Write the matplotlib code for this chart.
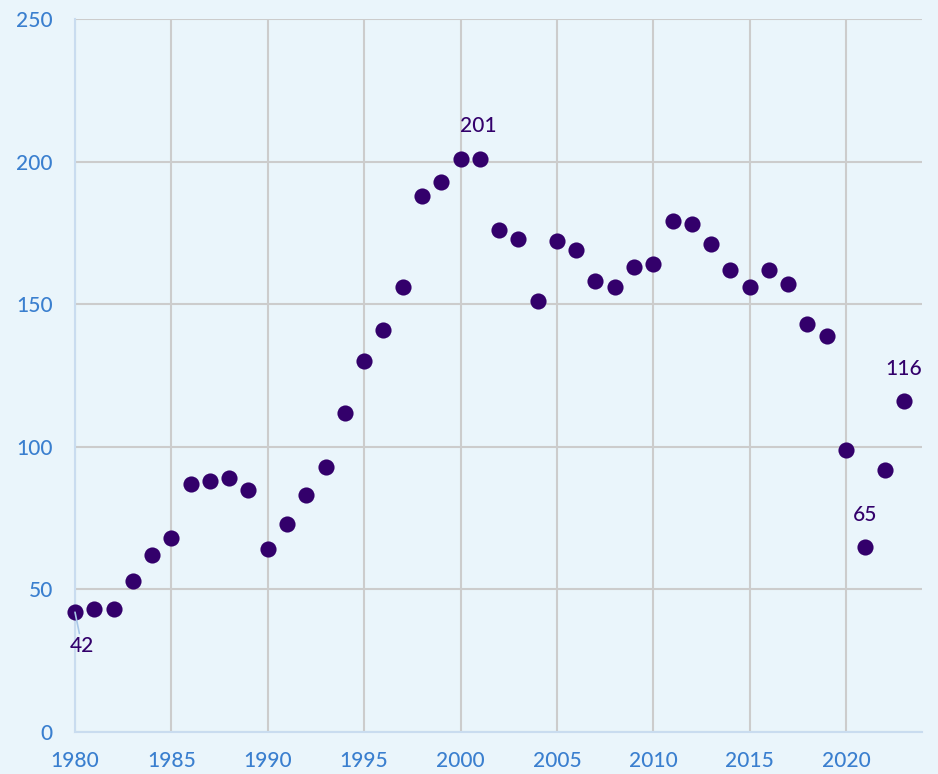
import matplotlib
matplotlib.use("Agg")
import matplotlib.pyplot as plt

years = list(range(1980, 2024))
values = [42, 43, 43, 53, 62, 68, 87, 88, 89, 85,
          64, 73, 83, 93, 112, 130, 141, 156, 188, 193,
          201, 201, 176, 173, 151, 172, 169, 158, 156, 163,
          164, 179, 178, 171, 162, 156, 162, 157, 143, 139,
          99, 65, 92, 116]
x_ticks = [1980, 1985, 1990, 1995, 2000, 2005, 2010, 2015, 2020]
y_ticks = [0, 50, 100, 150, 200, 250]
labels = {1980: "42", 2000: "201", 2021: "65", 2023: "116"}

plt.rcParams['font.family'] = ['Lato', 'DejaVu Sans']
plt.rcParams['font.weight'] = 'medium'
bg = "#eaf5fb"
dot = "#33006b"
tickc = "#3a7fcf"

fig = plt.figure(figsize=(9.38, 7.74), dpi=100, facecolor=bg)
ax = fig.add_axes([75/938, 1-732/774, (922-75)/938, (732-19)/774])
ax.set_facecolor(bg)
ax.set_xlim(1980, 1980 + (922-75)/19.275)
ax.set_ylim(0, 250)
ax.set_xticks(x_ticks)
ax.set_yticks(y_ticks)
ax.grid(True, color="#cccccc", linewidth=1.5)
ax.set_axisbelow(True)
for s in ["top", "right"]:
    ax.spines[s].set_visible(False)
for s in ["left", "bottom"]:
    ax.spines[s].set_color("#c9dcef")
    ax.spines[s].set_linewidth(1.5)
ax.tick_params(length=0, labelsize=15, colors=tickc)
ax.tick_params(axis='x', pad=14)
ax.tick_params(axis='y', pad=16)

ax.scatter(years, values, s=135, color=dot, zorder=3, clip_on=False, linewidths=0)

offsets = {1980: (7, -34), 2000: (18, 33), 2021: (0, 32), 2023: (0, 32)}
for yr, txt in labels.items():
    v = values[years.index(yr)]
    props = None
    if yr == 1980:
        props = dict(arrowstyle="-", color="#a8c8e8", lw=1.2, shrinkA=0, shrinkB=0)
    ax.annotate(txt, (yr, v), xytext=offsets[yr], textcoords="offset pixels",
                ha="center", va="center", fontsize=15, color=dot,
                fontweight='medium', arrowprops=props)

fig.savefig("out.png", dpi=100, facecolor=bg)
